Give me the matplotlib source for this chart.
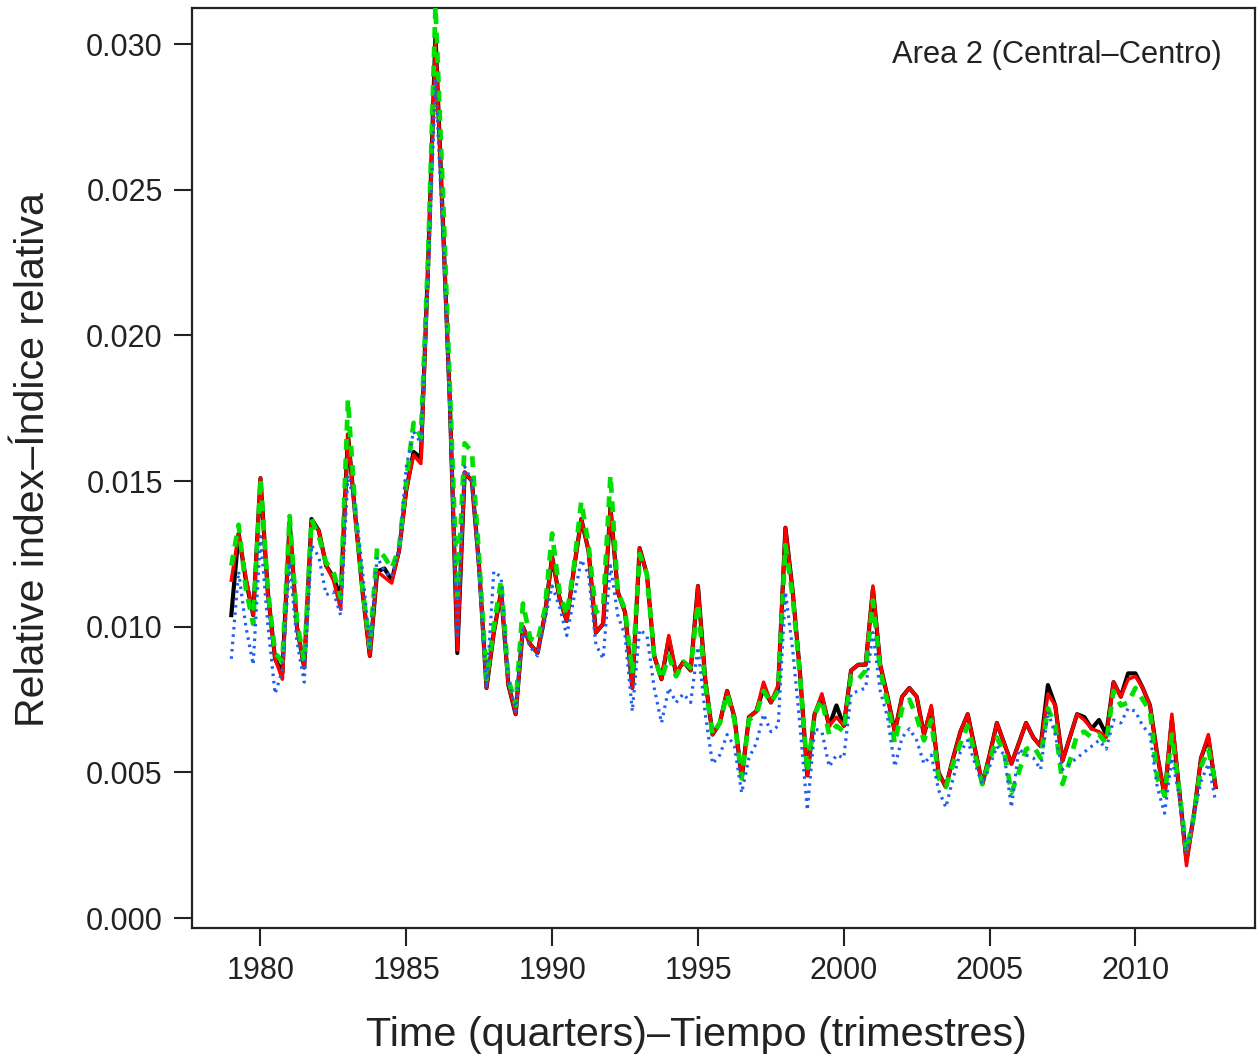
import numpy as np
import matplotlib
matplotlib.use("Agg")
import matplotlib.pyplot as plt

plt.rcParams['font.family'] = ['Liberation Sans', 'DejaVu Sans']

# quarterly series, 1979 Q1 .. 2012 Q4
start_year = 1979
black_vals = [
    0.0104, 0.0132, 0.0116, 0.0104, 0.0151, 0.0112, 0.0089, 0.0084, 0.0136, 0.0100,
    0.0086, 0.0137, 0.0133, 0.0121, 0.0117, 0.0110, 0.0166, 0.0138, 0.0112, 0.0090,
    0.0119, 0.0120, 0.0116, 0.0126, 0.0147, 0.0160, 0.0158, 0.0225, 0.0303, 0.0240,
    0.0175, 0.0091, 0.0153, 0.0150, 0.0120, 0.0079, 0.0098, 0.0112, 0.0080, 0.0070,
    0.0100, 0.0094, 0.0091, 0.0104, 0.0124, 0.0110, 0.0102, 0.0120, 0.0137, 0.0126,
    0.0098, 0.0101, 0.0141, 0.0112, 0.0105, 0.0079, 0.0127, 0.0118, 0.0090, 0.0082,
    0.0096, 0.0084, 0.0088, 0.0085, 0.0114, 0.0082, 0.0063, 0.0067, 0.0078, 0.0069,
    0.0048, 0.0069, 0.0071, 0.0079, 0.0074, 0.0079, 0.0134, 0.0112, 0.0084, 0.0049,
    0.0070, 0.0076, 0.0066, 0.0073, 0.0066, 0.0085, 0.0087, 0.0087, 0.0113, 0.0087,
    0.0076, 0.0064, 0.0076, 0.0079, 0.0076, 0.0063, 0.0072, 0.0050, 0.0045, 0.0055,
    0.0064, 0.0070, 0.0058, 0.0046, 0.0056, 0.0067, 0.0060, 0.0053, 0.0060, 0.0067,
    0.0062, 0.0059, 0.0080, 0.0073, 0.0054, 0.0062, 0.0070, 0.0069, 0.0065, 0.0068,
    0.0063, 0.0081, 0.0076, 0.0084, 0.0084, 0.0079, 0.0073, 0.0056, 0.0042, 0.0068,
    0.0044, 0.0020, 0.0035, 0.0055, 0.0062, 0.0045,
]
red_vals = [
    0.0116, 0.0132, 0.0117, 0.0104, 0.0151, 0.0112, 0.0089, 0.0082, 0.0136, 0.0100,
    0.0086, 0.0136, 0.0133, 0.0121, 0.0116, 0.0106, 0.0166, 0.0138, 0.0112, 0.0090,
    0.0119, 0.0117, 0.0115, 0.0126, 0.0147, 0.0159, 0.0156, 0.0224, 0.0300, 0.0240,
    0.0175, 0.0092, 0.0153, 0.0150, 0.0120, 0.0079, 0.0098, 0.0112, 0.0080, 0.0070,
    0.0100, 0.0094, 0.0091, 0.0104, 0.0124, 0.0110, 0.0102, 0.0120, 0.0137, 0.0126,
    0.0098, 0.0101, 0.0141, 0.0112, 0.0105, 0.0079, 0.0127, 0.0118, 0.0090, 0.0082,
    0.0097, 0.0084, 0.0088, 0.0085, 0.0114, 0.0082, 0.0063, 0.0067, 0.0078, 0.0069,
    0.0048, 0.0069, 0.0071, 0.0081, 0.0074, 0.0080, 0.0134, 0.0112, 0.0084, 0.0049,
    0.0070, 0.0077, 0.0066, 0.0069, 0.0066, 0.0085, 0.0087, 0.0087, 0.0114, 0.0087,
    0.0076, 0.0064, 0.0076, 0.0079, 0.0076, 0.0063, 0.0073, 0.0050, 0.0045, 0.0055,
    0.0064, 0.0070, 0.0058, 0.0046, 0.0056, 0.0067, 0.0060, 0.0053, 0.0060, 0.0067,
    0.0062, 0.0059, 0.0077, 0.0073, 0.0054, 0.0062, 0.0070, 0.0068, 0.0065, 0.0064,
    0.0062, 0.0081, 0.0076, 0.0082, 0.0083, 0.0079, 0.0073, 0.0056, 0.0042, 0.0070,
    0.0044, 0.0018, 0.0035, 0.0055, 0.0063, 0.0045,
]
green_vals = [
    0.0121, 0.0135, 0.0113, 0.0101, 0.0151, 0.0113, 0.0091, 0.0088, 0.0138, 0.0102,
    0.0088, 0.0137, 0.0131, 0.0122, 0.0119, 0.0110, 0.0178, 0.0140, 0.0113, 0.0093,
    0.0127, 0.0124, 0.0120, 0.0127, 0.0150, 0.0170, 0.0165, 0.0228, 0.0313, 0.0250,
    0.0180, 0.0110, 0.0163, 0.0160, 0.0123, 0.0082, 0.0100, 0.0116, 0.0082, 0.0073,
    0.0108, 0.0096, 0.0095, 0.0106, 0.0132, 0.0112, 0.0104, 0.0121, 0.0143, 0.0128,
    0.0105, 0.0107, 0.0152, 0.0112, 0.0106, 0.0084, 0.0125, 0.0118, 0.0090, 0.0082,
    0.0090, 0.0083, 0.0088, 0.0086, 0.0108, 0.0080, 0.0063, 0.0067, 0.0077, 0.0068,
    0.0048, 0.0068, 0.0070, 0.0078, 0.0074, 0.0078, 0.0128, 0.0110, 0.0083, 0.0050,
    0.0070, 0.0075, 0.0063, 0.0066, 0.0064, 0.0083, 0.0082, 0.0085, 0.0109, 0.0085,
    0.0074, 0.0060, 0.0072, 0.0075, 0.0069, 0.0061, 0.0068, 0.0048, 0.0045, 0.0053,
    0.0060, 0.0066, 0.0056, 0.0046, 0.0054, 0.0062, 0.0057, 0.0043, 0.0050, 0.0058,
    0.0059, 0.0055, 0.0072, 0.0066, 0.0046, 0.0054, 0.0063, 0.0064, 0.0062, 0.0063,
    0.0060, 0.0078, 0.0073, 0.0074, 0.0079, 0.0075, 0.0071, 0.0048, 0.0042, 0.0063,
    0.0044, 0.0023, 0.0035, 0.0052, 0.0058, 0.0046,
]
blue_vals = [
    0.0089, 0.0119, 0.0100, 0.0087, 0.0131, 0.0101, 0.0077, 0.0085, 0.0122, 0.0095,
    0.0081, 0.0128, 0.0124, 0.0111, 0.0112, 0.0104, 0.0152, 0.0141, 0.0119, 0.0093,
    0.0124, 0.0119, 0.0117, 0.0126, 0.0155, 0.0167, 0.0163, 0.0220, 0.0288, 0.0235,
    0.0172, 0.0096, 0.0155, 0.0150, 0.0118, 0.0079, 0.0119, 0.0117, 0.0082, 0.0071,
    0.0099, 0.0093, 0.0090, 0.0102, 0.0114, 0.0107, 0.0097, 0.0110, 0.0123, 0.0118,
    0.0094, 0.0089, 0.0121, 0.0104, 0.0097, 0.0071, 0.0099, 0.0097, 0.0079, 0.0067,
    0.0079, 0.0074, 0.0077, 0.0074, 0.0093, 0.0070, 0.0053, 0.0056, 0.0063, 0.0059,
    0.0043, 0.0055, 0.0060, 0.0070, 0.0064, 0.0066, 0.0112, 0.0092, 0.0066, 0.0037,
    0.0065, 0.0064, 0.0052, 0.0056, 0.0055, 0.0077, 0.0078, 0.0079, 0.0098, 0.0078,
    0.0069, 0.0052, 0.0062, 0.0065, 0.0061, 0.0053, 0.0056, 0.0044, 0.0038, 0.0048,
    0.0057, 0.0061, 0.0053, 0.0046, 0.0052, 0.0059, 0.0056, 0.0038, 0.0058, 0.0056,
    0.0055, 0.0051, 0.0071, 0.0063, 0.0051, 0.0053, 0.0055, 0.0057, 0.0059, 0.0061,
    0.0058, 0.0068, 0.0067, 0.0072, 0.0071, 0.0066, 0.0063, 0.0045, 0.0036, 0.0055,
    0.0042, 0.0022, 0.0035, 0.0047, 0.0053, 0.0040,
]

x_ticks = [1980, 1985, 1990, 1995, 2000, 2005, 2010]
y_ticks = [0.000, 0.005, 0.010, 0.015, 0.020, 0.025, 0.030]
title = "Area 2 (Central\u2013Centro)"
xlabel = "Time (quarters)\u2013Tiempo (trimestres)"
ylabel = "Relative index\u2013\u00cdndice relativa"

t = start_year + np.arange(len(black_vals)) / 4.0

fig = plt.figure(figsize=(12.57, 10.6), dpi=100)
ax = fig.add_axes([0.1527, 0.1245, 0.8457, 0.868])

ax.plot(t, black_vals, color='black', lw=3.0, zorder=2)
ax.plot(t, red_vals, color='#ff0000', lw=2.5, zorder=3)
ax.plot(t, green_vals, color='#00e000', lw=3.4, ls=(0, (2.3, 1.8)), zorder=4)
ax.plot(t, blue_vals, color='#2060f0', lw=2.3, ls=(0, (0.8, 1.5)), zorder=5)

ax.set_xlim(1977.65, 2014.1)
ax.set_ylim(-0.00034, 0.03124)
ax.set_xticks(x_ticks)
ax.set_yticks(y_ticks)
ax.set_yticklabels(["%.3f" % v for v in y_ticks])
ax.tick_params(axis='both', direction='out', length=13, width=1.5,
               labelsize=22, colors='#222222')
ax.tick_params(axis='x', pad=7)
ax.tick_params(axis='y', pad=8)
for s in ax.spines.values():
    s.set_linewidth(1.6)
    s.set_color('#222222')

ax.text(0.969, 0.949, title, transform=ax.transAxes, ha='right', va='center',
        fontsize=22.2, color='#222222')
fig.text(0.554, 0.0236, xlabel, ha='center', va='center', fontsize=29.8, color='#222222')
fig.text(0.0265, 0.566, ylabel, ha='center', va='center', rotation=90,
         fontsize=29.6, color='#222222')

fig.savefig("out.png", dpi=100)
